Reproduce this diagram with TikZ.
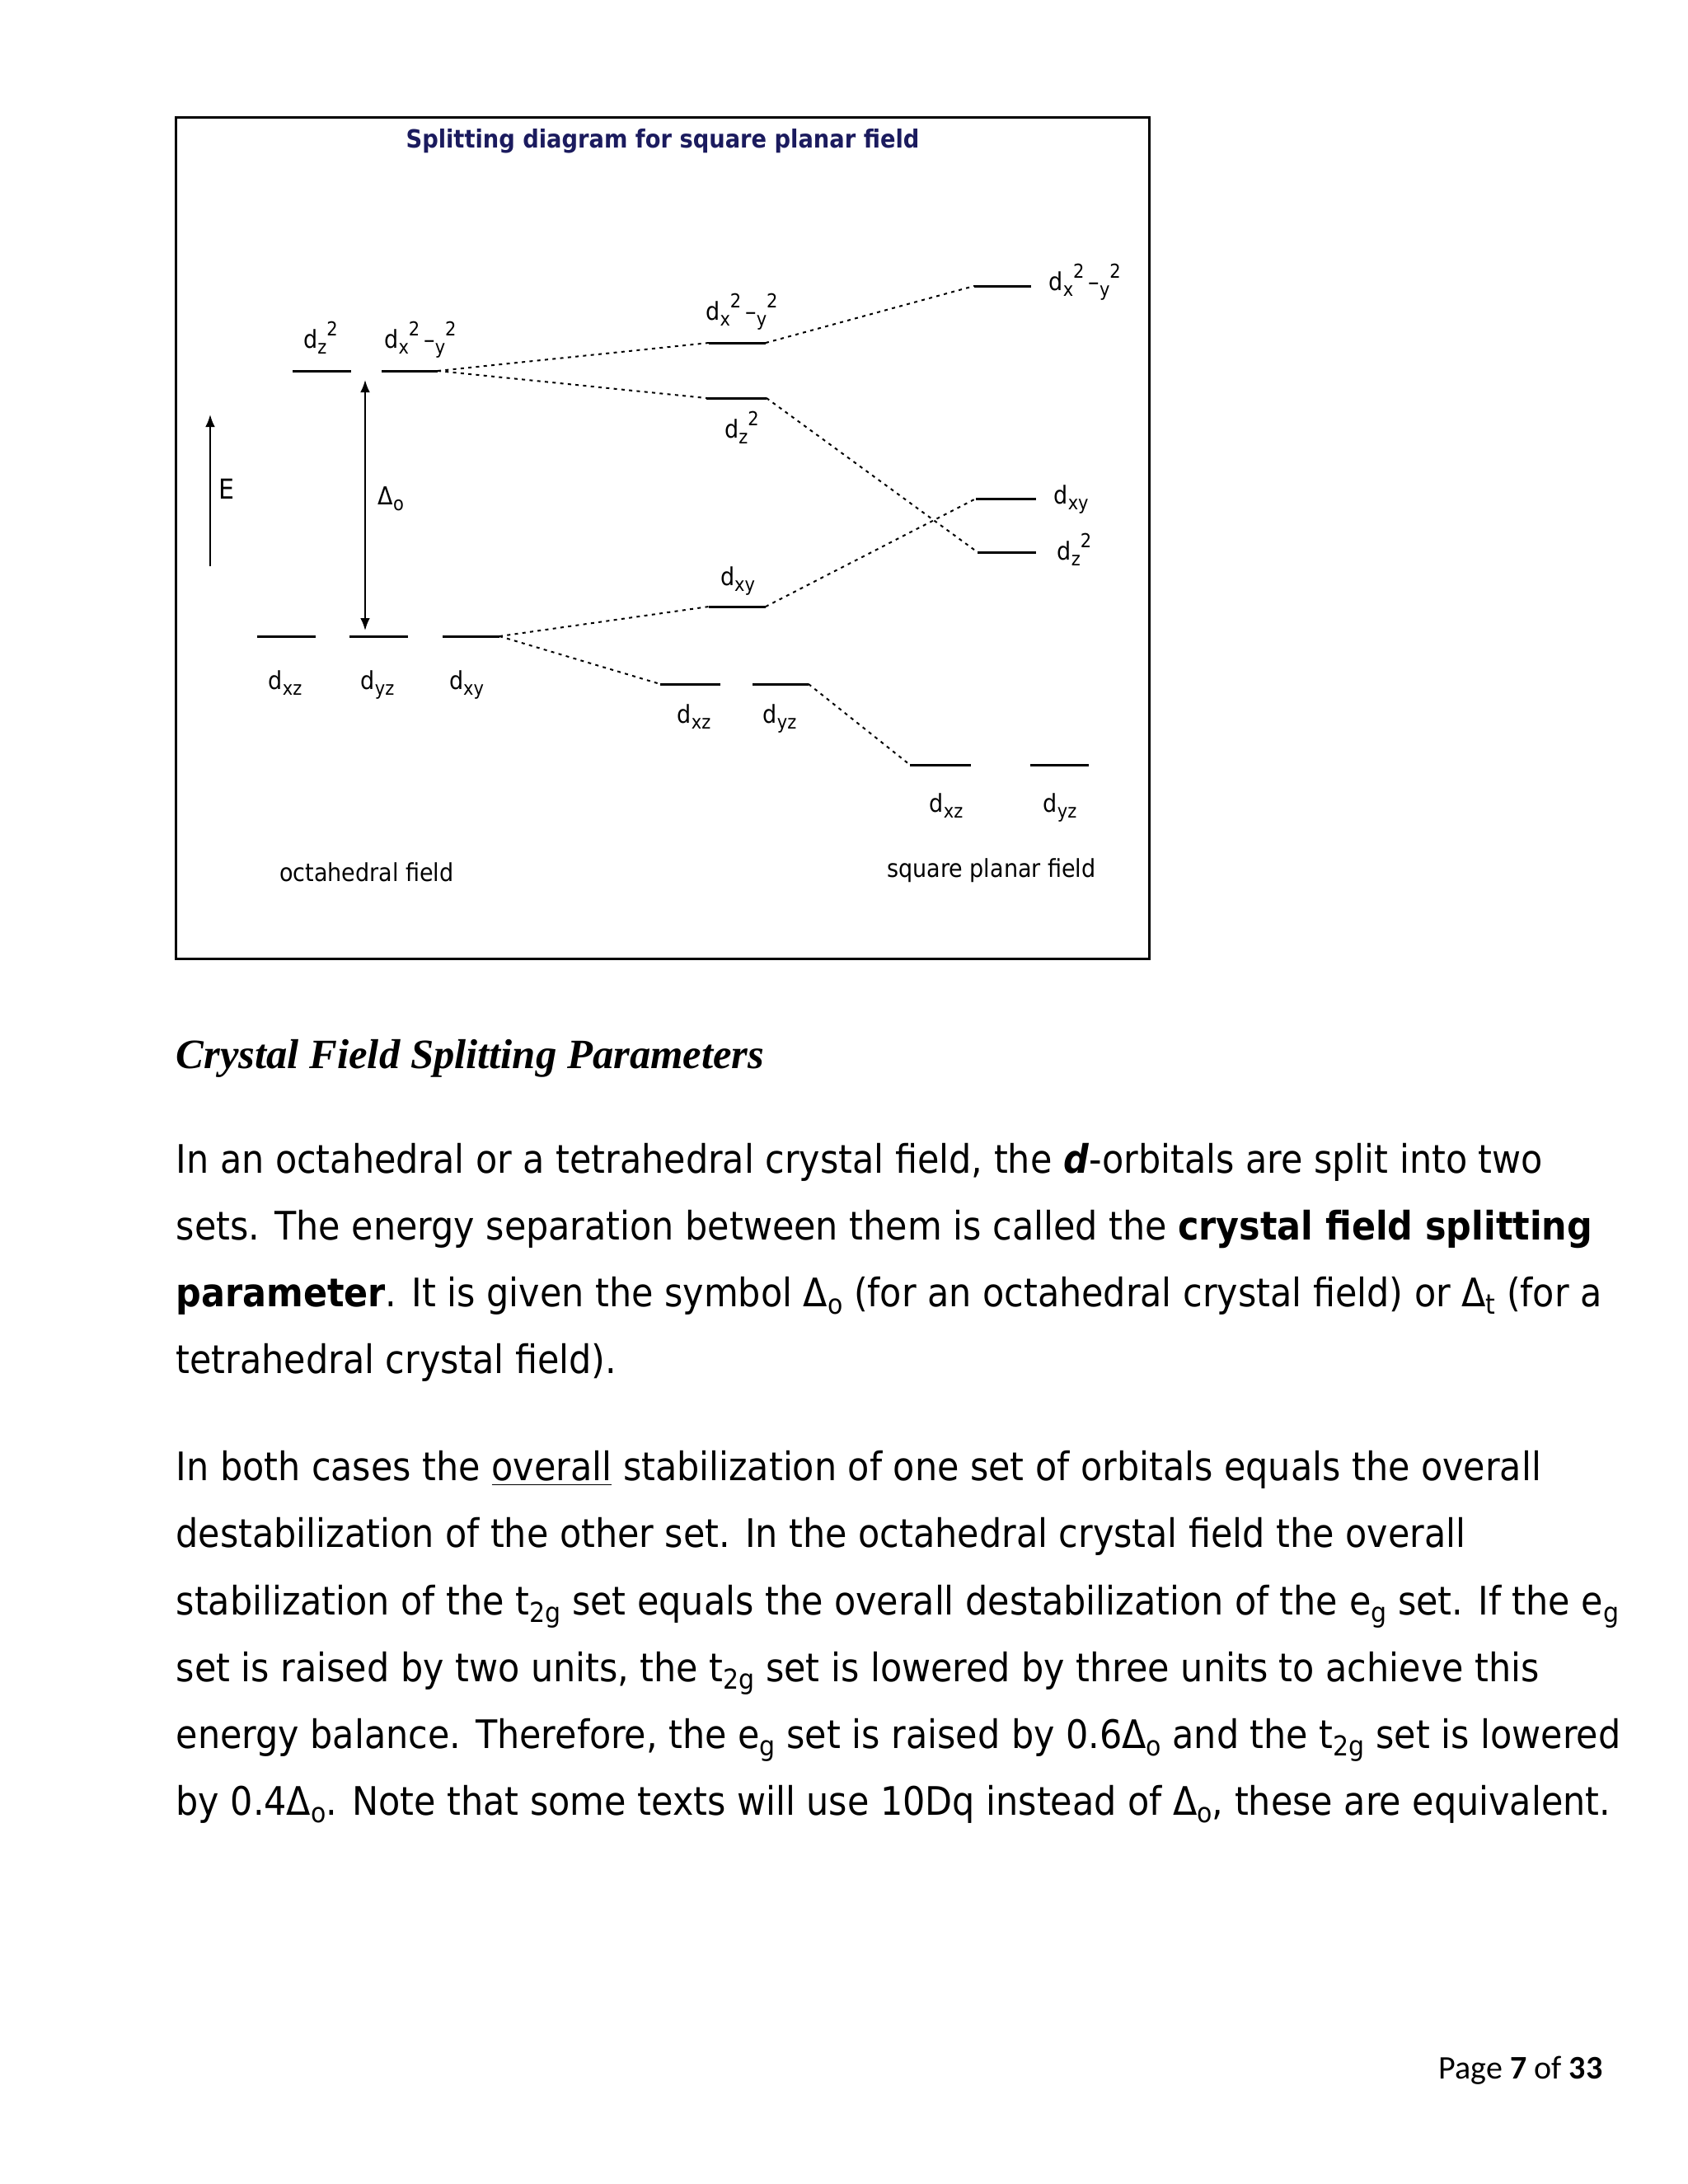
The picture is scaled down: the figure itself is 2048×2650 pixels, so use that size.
\documentclass[tikz,border=0pt]{standalone}
\usepackage{fontspec}
\setmainfont{DejaVu Sans Condensed}
\newfontfamily\headfont{Liberation Serif}
\newfontfamily\pagefont{Carlito}
\usetikzlibrary{arrows.meta, positioning}
\definecolor{navy}{HTML}{1B1B5E}

\newcommand{\orb}[1]{d\raisebox{-0.45ex}{\scriptsize #1}}
\newcommand{\orbsq}[1]{d\raisebox{-0.45ex}{\scriptsize #1}\raisebox{0.9ex}{\scriptsize 2}}
\newcommand{\orbxy}{d\raisebox{-0.45ex}{\scriptsize x}\raisebox{0.9ex}{\scriptsize 2}\,--\raisebox{-0.45ex}{\scriptsize y}\raisebox{0.9ex}{\scriptsize 2}}
\newcommand{\lo}[1]{\raisebox{-0.35ex}{\fontsize{10}{12}\selectfont #1}}

\begin{document}
\begin{tikzpicture}[x=0.3pt, y=-0.3pt,
  level/.style={line width=0.9pt},
  link/.style={line width=0.6pt, dash pattern=on 1.2pt off 1.6pt},
  lbl/.style={inner sep=0pt, font=\fontsize{9}{10}\selectfont},
  body/.style={anchor=base west, inner sep=0pt, font=\fontsize{14.3}{17}\selectfont}]
  \fill[white] (0,0) rectangle (2048,2650);
  \useasboundingbox (0,0) rectangle (2048,2650);

  % frame and title
  \draw[line width=0.9pt] (213,142) rectangle (1394,1163);
  \node[inner sep=0pt, text=navy, font=\fontsize{9.1}{11}\selectfont\bfseries] (title) at (804,171)
    {Splitting diagram for square planar field};

  % energy levels: name/left/right/height
  \foreach \n/\a/\b/\y in {oz2/355/426/450, ox2/463/531/450,
      oxz/312/383/772, oyz/424/495/772, oxy/537/606/772,
      mx2/860/929/416, mz2/857/930/483, mxy/860/929/736,
      mxz/801/874/830, myz/913/981/830,
      rx2/1182/1251/347, rxy/1184/1257/605, rz2/1186/1257/670,
      rxz/1104/1178/928, ryz/1250/1321/928}{
    \coordinate (\n-l) at (\a,\y);
    \coordinate (\n-r) at (\b,\y);
    \draw[level] (\n-l) -- (\n-r);
  }

  % correlation lines
  \draw[link] (ox2-r) -- (mx2-l);
  \draw[link] (ox2-r) -- (mz2-l);
  \draw[link] (mx2-r) -- (rx2-l);
  \draw[link] (mz2-r) -- (rz2-l);
  \draw[link] (oxy-r) -- (mxy-l);
  \draw[link] (oxy-r) -- (mxz-l);
  \draw[link] (mxy-r) -- (rxy-l);
  \draw[link] (myz-r) -- (rxz-l);

  % energy axis and splitting
  \coordinate (e-bot) at (255,687);
  \coordinate (e-top) at (255,503);
  \draw[line width=0.6pt, -{Latex[length=4.5pt,width=3.5pt]}] (e-bot) -- (e-top);
  \node[lbl, font=\fontsize{10}{12}\selectfont] (elbl) at (275,593) {E};
  \coordinate (do-top) at (443,461);
  \coordinate (do-bot) at (443,765);
  \draw[line width=0.6pt, {Latex[length=4.5pt,width=3.5pt]}-{Latex[length=4.5pt,width=3.5pt]}] (do-top) -- (do-bot);
  \node[lbl, anchor=base west] (dolbl) at (458,612) {Δ\raisebox{-0.45ex}{\scriptsize o}};

  % labels, octahedral
  \node[lbl, anchor=base] (l-oz2) at (389,422) {\orbsq{z}};
  \node[lbl, anchor=base] (l-ox2) at (510,422) {\orbxy};
  \node[lbl, anchor=base] (l-oxz) at (346,836) {\orb{xz}};
  \node[lbl, anchor=base] (l-oyz) at (458,836) {\orb{yz}};
  \node[lbl, anchor=base] (l-oxy) at (566,836) {\orb{xy}};
  % labels, middle
  \node[lbl, anchor=base] (l-mx2) at (900,388) {\orbxy};
  \node[lbl, anchor=base] (l-mz2) at (900,531) {\orbsq{z}};
  \node[lbl, anchor=base] (l-mxy) at (895,710) {\orb{xy}};
  \node[lbl, anchor=base] (l-mxz) at (842,877) {\orb{xz}};
  \node[lbl, anchor=base] (l-myz) at (946,877) {\orb{yz}};
  % labels, square planar
  \node[lbl, anchor=base west] (l-rx2) at (1272,352) {\orbxy};
  \node[lbl, anchor=base west] (l-rxy) at (1278,611) {\orb{xy}};
  \node[lbl, anchor=base west] (l-rz2) at (1282,679) {\orbsq{z}};
  \node[lbl, anchor=base] (l-rxz) at (1148,985) {\orb{xz}};
  \node[lbl, anchor=base] (l-ryz) at (1286,985) {\orb{yz}};

  \node[lbl] (octa) at (445,1058) {octahedral field};
  \node[lbl] (sqpl) at (1203,1056) {square planar field};

  % text below the figure
  \node[anchor=base west, inner sep=0pt, font=\headfont\fontsize{15.2}{18}\selectfont\bfseries\itshape] (head) at (213,1296)
    {Crystal Field Splitting Parameters};

  \node[body] (p1a) at (213,1423) {In an octahedral or a tetrahedral crystal field, the \textbf{\textit{d}}-orbitals are split into two};
  \node[body] (p1b) at (213,1504) {sets. The energy separation between them is called the \textbf{crystal field splitting}};
  \node[body] (p1c) at (213,1585) {\textbf{parameter}. It is given the symbol Δ\lo{o} (for an octahedral crystal field) or Δ\lo{t} (for a};
  \node[body] (p1d) at (213,1666) {tetrahedral crystal field).};

  \node[body] (p2a) at (213,1796) {In both cases the \underline{overall} stabilization of one set of orbitals equals the overall};
  \node[body] (p2b) at (213,1877) {destabilization of the other set. In the octahedral crystal field the overall};
  \node[body] (p2c) at (213,1959) {stabilization of the t\lo{2g} set equals the overall destabilization of the e\lo{g} set. If the e\lo{g}};
  \node[body] (p2d) at (213,2040) {set is raised by two units, the t\lo{2g} set is lowered by three units to achieve this};
  \node[body] (p2e) at (213,2121) {energy balance. Therefore, the e\lo{g} set is raised by 0.6Δ\lo{o} and the t\lo{2g} set is lowered};
  \node[body] (p2f) at (213,2202) {by 0.4Δ\lo{o}. Note that some texts will use 10Dq instead of Δ\lo{o}, these are equivalent.};

  \node[anchor=base east, inner sep=0pt, font=\pagefont\fontsize{12}{14}\selectfont] (pageno) at (1945,2522)
    {Page \textbf{7} of \textbf{33}};
\end{tikzpicture}
\end{document}
